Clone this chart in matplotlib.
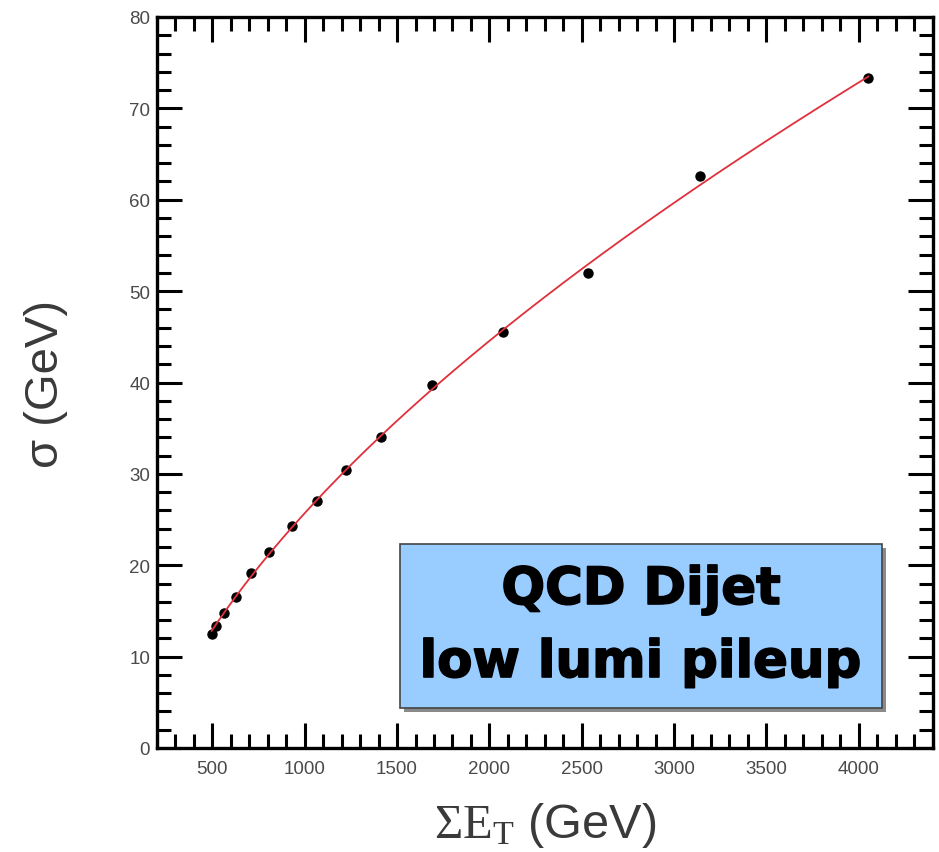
import numpy as np
import matplotlib
matplotlib.use("Agg")
import matplotlib.pyplot as plt
from matplotlib.ticker import MultipleLocator
from matplotlib.patches import Rectangle
import matplotlib.patheffects as pe

# Data
sum_et = [496, 518, 561, 626, 708, 805, 930, 1065, 1223, 1413, 1692, 2075, 2536, 3142, 4053]
sigma = [12.5, 13.3, 14.8, 16.5, 19.1, 21.5, 24.3, 27.0, 30.4, 34.0, 39.7, 45.5, 52.0, 62.6, 73.3]

x_ticks = [500, 1000, 1500, 2000, 2500, 3000, 3500, 4000]
y_ticks = [0, 10, 20, 30, 40, 50, 60, 70, 80]
box_lines = ["QCD Dijet", "low lumi pileup"]

plt.rcParams['mathtext.fontset'] = 'custom'
plt.rcParams['mathtext.rm'] = 'Liberation Serif'
plt.rcParams['mathtext.it'] = 'Liberation Serif'

fig = plt.figure(figsize=(9.39, 8.53), dpi=100)
ax = fig.add_axes([157 / 939, 1 - 749 / 853, (932.5 - 157) / 939, (749 - 18) / 853])

# fit curve (quadratic in sqrt(E))
xs = np.array(sum_et, dtype=float)
ys = np.array(sigma, dtype=float)
coef = np.polyfit(np.sqrt(xs), ys, 2)
xf = np.linspace(xs.min(), xs.max(), 300)
ax.plot(xs, ys, 'o', color='black', markersize=6.5, zorder=3)
ax.plot(xf, np.polyval(coef, np.sqrt(xf)), '-', color='#e0303c', lw=1.3, zorder=4)

ax.set_xlim(200, 4400)
ax.set_ylim(0, 80)
ax.set_xticks(x_ticks)
ax.set_yticks(y_ticks)
ax.xaxis.set_minor_locator(MultipleLocator(100))
ax.yaxis.set_minor_locator(MultipleLocator(2))
ax.tick_params(which='both', direction='in', top=True, right=True, width=2.2, color='black')
ax.tick_params(which='major', length=18)
ax.tick_params(which='minor', length=10)
ax.tick_params(axis='x', which='major', pad=9)
ax.tick_params(axis='y', which='major', pad=5)
for lab in ax.get_xticklabels() + ax.get_yticklabels():
    lab.set_fontfamily('Liberation Sans')
    lab.set_fontsize(13.5)
    lab.set_color('#4a4a4a')
for s in ax.spines.values():
    s.set_linewidth(2.4)
    s.set_color('black')

ax.set_ylabel('σ (GeV)', fontsize=34, color='#3a3a3a', family='Liberation Sans', labelpad=44)
ax.set_xlabel(r'$\Sigma\mathrm{E}_\mathrm{T}$ (GeV)', fontsize=35, color='#3a3a3a',
              family='Liberation Sans', labelpad=16)

# text box with shadow (figure pixel coords -> figure fraction)
W, H = 939, 853
bx0, by0, bx1, by1 = 400, 545, 882, 709
shadow = Rectangle(((bx0 + 4) / W, 1 - (by1 + 4) / H), (bx1 - bx0) / W, (by1 - by0) / H,
                   transform=fig.transFigure, facecolor='#8a8a8a', edgecolor='none', zorder=5)
box = Rectangle((bx0 / W, 1 - by1 / H), (bx1 - bx0) / W, (by1 - by0) / H,
                transform=fig.transFigure, facecolor='#99ccff', edgecolor='#444444', lw=1.2, zorder=6)
fig.patches.extend([shadow, box])
cx = (bx0 + bx1) / 2 / W
heavy = [pe.withStroke(linewidth=1.2, foreground='black')]
fig.text(cx, 1 - 605 / H, box_lines[0], ha='center', va='baseline', fontsize=37,
         fontweight='bold', family='DejaVu Sans', color='black', zorder=7, path_effects=heavy)
fig.text(cx, 1 - 678 / H, box_lines[1], ha='center', va='baseline', fontsize=37,
         fontweight='bold', family='DejaVu Sans', color='black', zorder=7, path_effects=heavy)

fig.savefig('out.png', dpi=100)
